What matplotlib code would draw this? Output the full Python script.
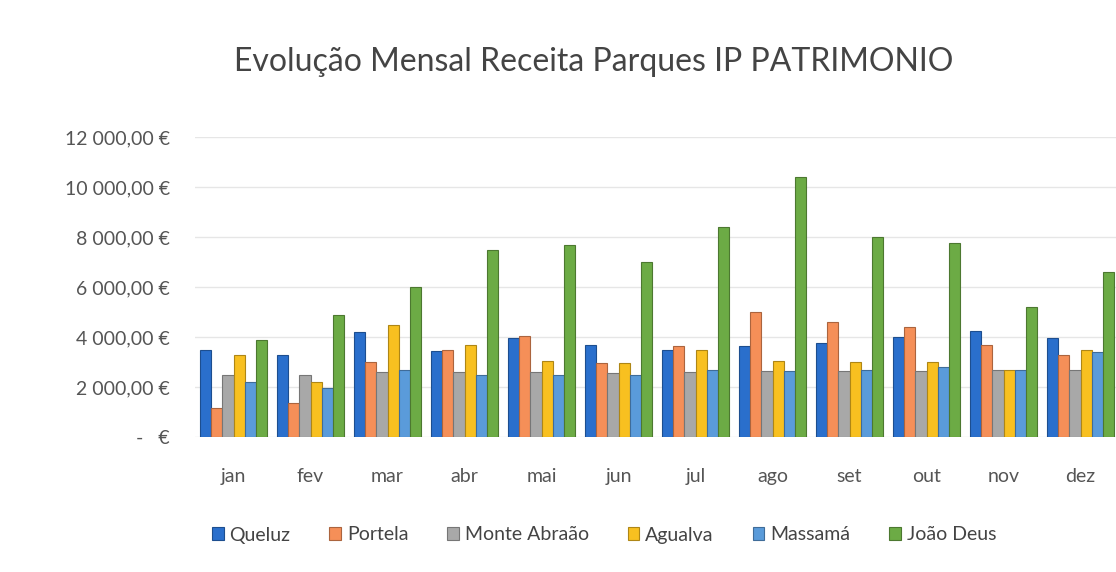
import numpy as np
import matplotlib.pyplot as plt
from matplotlib.ticker import FuncFormatter
from matplotlib.colors import to_rgb

plt.rcParams['font.family'] = ['Lato', 'DejaVu Sans']

meses = ['jan', 'fev', 'mar', 'abr', 'mai', 'jun', 'jul', 'ago', 'set', 'out', 'nov', 'dez']

queluz = [3500, 3300, 4200, 3450, 3950, 3700, 3500, 3650, 3750, 4000, 4250, 3950]
portela = [1150, 1350, 3000, 3500, 4050, 2950, 3650, 5000, 4600, 4400, 3700, 3300]
monte_abraao = [2500, 2500, 2600, 2600, 2600, 2550, 2600, 2650, 2650, 2650, 2700, 2700]
agualva = [3300, 2200, 4500, 3700, 3050, 2950, 3500, 3050, 3000, 3000, 2700, 3500]
massama = [2200, 1950, 2700, 2500, 2500, 2500, 2700, 2650, 2700, 2800, 2700, 3400]
joao_deus = [3900, 4900, 6000, 7500, 7700, 7000, 8400, 10400, 8000, 7750, 5200, 6600]

series = {
    'Queluz': queluz,
    'Portela': portela,
    'Monte Abraão': monte_abraao,
    'Agualva': agualva,
    'Massamá': massama,
    'João Deus': joao_deus,
}
cores = ['#2A6FCC', '#F58F58', '#A8A8A8', '#F8C020', '#5A9BDA', '#6CAB45']

W, H = 1116, 572
fig = plt.figure(figsize=(W / 100, H / 100), dpi=100)
# eixo vai um pouco para fora da figura (o original está cortado à direita)
ax = fig.add_axes([195 / W, 1 - 437 / H, 924 / W, 300 / H])

x = np.arange(len(meses))
largura = 0.145
for i, ((nome, vals), cor) in enumerate(zip(series.items(), cores)):
    escuro = tuple(c * 0.7 for c in to_rgb(cor))
    ax.bar(x + (i - 2.5) * largura, vals, width=largura, color=cor,
           edgecolor=escuro, linewidth=0.8, label=nome, zorder=3)

ax.set_xlim(-0.5, 11.5)
ax.set_ylim(0, 12000)
ax.set_yticks(np.arange(0, 12001, 2000))


def euro(v, pos):
    if v == 0:
        return '-   €'
    return f'{int(v):,}'.replace(',', ' ') + ',00 €'


ax.yaxis.set_major_formatter(FuncFormatter(euro))
ax.set_xticks(x)
ax.set_xticklabels(meses)
ax.tick_params(axis='both', length=0, labelsize=14, colors='#555555')
ax.tick_params(axis='y', pad=18)
ax.tick_params(axis='x', pad=22)
ax.grid(axis='y', color='#e6e6e6', linewidth=1, zorder=0)
for s in ax.spines.values():
    s.set_visible(False)

fig.text(594 / W, 1 - 62 / H, 'Evolução Mensal Receita Parques IP PATRIMONIO',
         ha='center', va='center', fontsize=23, color='#444444')

ax.legend(loc='center', bbox_to_anchor=(604 / W, 1 - 535 / H),
          bbox_transform=fig.transFigure, ncol=6, frameon=False,
          fontsize=14, handlelength=0.6, handleheight=0.6,
          handletextpad=0.3, columnspacing=2.0, labelcolor='#444444')

fig.savefig('out.png', dpi=100)
